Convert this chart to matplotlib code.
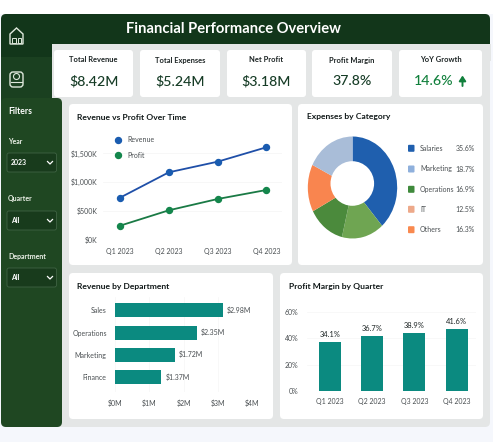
import matplotlib
matplotlib.use('Agg')
import matplotlib.pyplot as plt
from matplotlib.patches import FancyBboxPatch, Rectangle, Ellipse, Polygon

plt.rcParams['font.family'] = ['Lato', 'DejaVu Sans']

W, H = 493, 442

kpi_titles = ['Total Revenue', 'Total Expenses', 'Net Profit', 'Profit Margin', 'YoY Growth']
kpi_values = ['$8.42M', '$5.24M', '$3.18M', '37.8%', '14.6%']

quarters = ['Q1 2023', 'Q2 2023', 'Q3 2023', 'Q4 2023']
revenue = [725, 1167, 1352, 1603]
profit = [237, 505, 702, 859]

exp_names = ['Salaries', 'Marketing', 'Operations', 'IT', 'Others']
exp_labels = ['35.6%', '18.7%', '16.9%', '12.5%', '16.3%']
exp_colors = ['#1f5fae', '#8fb0dc', '#3f8a3c', '#eda98a', '#f9894f']
# slices as drawn, they do not follow the printed percentages
slice_sizes = [38.5, 15.3, 13.5, 15.0, 17.7]
slice_colors = ['#1f5fae', '#6fa552', '#4b8a3c', '#f9854f', '#a9bdd8']

departments = ['Sales', 'Operations', 'Marketing', 'Finance']
dept_bars = [3.15, 2.38, 1.74, 1.35]
dept_labels = ['$2.98M', '$2.35M', '$1.72M', '$1.37M']

margin_bars = [37.3, 41.7, 44.0, 47.0]
margin_labels = ['34.1%', '36.7%', '38.9%', '41.6%']

TEAL = '#0b8a80'
TXT = '#1c2424'
GREY = '#4a4f52'
SMALL = 5.0

fig = plt.figure(figsize=(W / 100, H / 100), dpi=100, facecolor='#f5f7fc')
bg = fig.add_axes([0, 0, 1, 1], zorder=1)
bg.set_xlim(0, W)
bg.set_ylim(H, 0)
bg.axis('off')


def px_axes(x0, y0, x1, y1, z=2):
    ax = fig.add_axes([x0 / W, 1 - y1 / H, (x1 - x0) / W, (y1 - y0) / H], zorder=z)
    ax.patch.set_alpha(0)
    return ax


def box(x0, y0, x1, y1, color, r=4, z=1, ec='none', lw=0):
    bg.add_patch(FancyBboxPatch((x0 + r, y0 + r), x1 - x0 - 2 * r, y1 - y0 - 2 * r,
                                boxstyle=f'round,pad={r},rounding_size={r}',
                                fc=color, ec=ec, lw=lw, zorder=z))


# frame
bg.add_patch(Rectangle((0, 0), W, 14, fc='white', zorder=0))
box(1, 14, 490, 427, '#e4e6e6', r=5, z=1)
box(1, 14, 490, 60, '#12361a', r=5, z=2)
bg.add_patch(Rectangle((52, 44), 438.5, 17, fc='#e4e6e6', zorder=3))
box(1, 30, 52, 110, '#12361a', r=1, z=2)
bg.add_patch(Rectangle((1, 57), 51, 50, fc='#1a4020', zorder=3))
box(1, 98, 62, 427, '#1f4722', r=5, z=4)
bg.text(233, 29, 'Financial Performance Overview', color='white', fontsize=10.6,
        weight='bold', ha='center', va='center', zorder=5)

# sidebar icons
ICON = '#dfe8dc'
bg.add_patch(Polygon([(10, 34), (10, 44), (23, 44), (23, 34), (16.5, 28)], fc='none', ec=ICON, lw=1, zorder=5))
bg.add_patch(Rectangle((12, 38), 3.5, 5, fc='none', ec=ICON, lw=0.7, zorder=5))
bg.add_patch(Rectangle((17.5, 38), 3.5, 5, fc='none', ec=ICON, lw=0.7, zorder=5))
box(10, 72, 23, 87, '#1a4020', r=3, z=5, ec=ICON, lw=1)
bg.add_patch(Ellipse((16.5, 76.5), 6, 6, fc='none', ec=ICON, lw=0.8, zorder=6))
bg.plot([11, 22], [82, 82], color=ICON, lw=0.8, zorder=6)

# filters
bg.text(8, 112, 'Filters', color='white', fontsize=6.2, weight='bold', va='center', zorder=5)
for name, lab_y, val, y0 in [('Year', 142, '2023', 153), ('Quarter', 199, 'All', 211), ('Department', 257, 'All', 268)]:
    bg.text(8, lab_y, name, color='#eef3ea', fontsize=5, weight='bold', va='center', zorder=5)
    box(7, y0, 56.5, y0 + 19, '#183b1c', r=2, z=5, ec='#3f6344', lw=0.6)
    bg.text(11, y0 + 9.5, val, color='white', fontsize=5, weight='bold', va='center', zorder=6)
    bg.plot([47.5, 50, 52.5], [y0 + 8.5, y0 + 11, y0 + 8.5], color='white', lw=0.9, zorder=6)

# kpi cards
kpi_x = [(54, 133), (140, 220), (227, 306), (312, 392), (399, 482)]
for (x0, x1), t, v in zip(kpi_x, kpi_titles, kpi_values):
    box(x0, 50, x1, 97, 'white', r=3, z=4)
    cx = (x0 + x1) / 2
    bg.text(cx, 60, t, color=TXT, fontsize=5.4, weight='bold', ha='center', va='center', zorder=5)
    if t == 'YoY Growth':
        bg.text(cx - 7, 81, v, color='#11803c', fontsize=10.2, weight='medium', ha='center', va='center', zorder=5)
        bg.annotate('', xy=(462.5, 75.5), xytext=(462.5, 86), zorder=5,
                    arrowprops=dict(arrowstyle='-|>,head_width=0.2,head_length=0.3', color='#11803c', lw=1.4, shrinkA=0, shrinkB=0))
    else:
        bg.text(cx, 81, v, color='#163c26', fontsize=10.2, weight='medium', ha='center', va='center', zorder=5)

# chart cards
for x0, y0, x1, y1, title, tx in [(69, 104, 292, 265, 'Revenue vs Profit Over Time', 77),
                                  (298, 104, 483, 265, 'Expenses by Category', 307),
                                  (69, 273, 273, 419, 'Revenue by Department', 77),
                                  (280, 273, 483, 419, 'Profit Margin by Quarter', 289)]:
    box(x0, y0, x1, y1, 'white', r=4, z=4)
    bg.text(tx, y0 + 13, title, color='#101818', fontsize=6.1, weight='bold', va='center', zorder=5)

# line chart
ax = px_axes(103, 135, 282, 239.3)
ax.plot(quarters, revenue, color='#1f4fa8', lw=1.3, marker='o', ms=4.3, mfc='#1a5cb0', mec='#1a5cb0', label='Revenue')
ax.plot(quarters, profit, color='#1a7a45', lw=1.3, marker='o', ms=4.3, mfc='#14864c', mec='#14864c', label='Profit')
ax.set_xlim(-0.349, 3.32)
ax.set_ylim(0, 1817)
ax.set_yticks([0, 500, 1000, 1500], ['$0K', '$500K', '$1,000K', '$1,500K'])
ax.grid(axis='y', color='#f4f4f4', lw=0.5)
ax.set_axisbelow(True)
ax.tick_params(length=0, labelsize=SMALL, labelcolor=GREY, pad=6)
ax.tick_params(axis='y', pad=4)
for s in ax.spines.values():
    s.set_visible(False)
ax.legend(loc='upper left', bbox_to_anchor=(0.065, 1.02), frameon=False, fontsize=SMALL, labelcolor=GREY,
          handlelength=0, handletextpad=1.4, labelspacing=1.2, borderpad=0)

# donut
ax = px_axes(305, 136, 400, 239)
ax.pie(slice_sizes, colors=slice_colors, startangle=90, counterclock=False, radius=1)
ax.set_xlim(-1.063, 1.063)
ax.set_ylim(-1.01, 1.01)
ax.set_aspect('auto')
# hole sits above the wedges and a little off centre, so it gets its own axes
hole = px_axes(330, 160, 375, 207, z=3)
hole.set_xlim(330, 375)
hole.set_ylim(207, 160)
hole.axis('off')
hole.add_patch(Ellipse((352.3, 183.5), 43.6, 44.6, fc='white', ec='none'))

for y, n, p, c in zip([148.3, 169, 189.3, 209.3, 229.7], exp_names, exp_labels, exp_colors):
    box(408, y - 3.5, 414.5, y + 3.5, c, r=1, z=5)
    bg.text(420, y, n, color=GREY, fontsize=SMALL, va='center', zorder=5)
    bg.text(474.7, y, p, color=GREY, fontsize=SMALL, ha='right', va='center', zorder=5)

# department bars
ax = px_axes(115, 297, 252, 392)
ax.barh(departments, dept_bars, height=0.63, color=TEAL)
ax.set_xlim(0, 4)
ax.set_ylim(3.68, -0.6)
ax.set_xticks([0, 1, 2, 3, 4], ['$0M', '$1M', '$2M', '$3M', '$4M'])
ax.grid(axis='x', color='#f6f6f6', lw=0.5)
ax.set_axisbelow(True)
ax.tick_params(length=0, labelsize=SMALL, labelcolor=GREY)
ax.tick_params(axis='y', pad=6)
ax.tick_params(axis='x', pad=5.5)
for s in ax.spines.values():
    s.set_visible(False)
for i, (v, t) in enumerate(zip(dept_bars, dept_labels)):
    ax.text(v + 0.12, i, t, color=GREY, fontsize=SMALL, va='center')

# margin bars
ax = px_axes(307, 305, 476, 390.7)
ax.bar(quarters, margin_bars, width=0.52, color=TEAL)
ax.set_xlim(-0.536, 3.456)
ax.set_ylim(0, 65.6)
ax.set_yticks([0, 20, 40, 60], ['0%', '20%', '40%', '60%'])
ax.grid(axis='y', color='#f6f6f6', lw=0.5)
ax.set_axisbelow(True)
ax.tick_params(length=0, labelsize=SMALL, labelcolor=GREY)
ax.tick_params(axis='x', pad=5.5)
ax.tick_params(axis='y', pad=6)
for s in ax.spines.values():
    s.set_visible(False)
for i, (v, t) in enumerate(zip(margin_bars, margin_labels)):
    ax.text(i, v + 3, t, color=TXT, fontsize=5.4, ha='center', va='bottom')

fig.savefig('out.png', dpi=100, facecolor=fig.get_facecolor())
